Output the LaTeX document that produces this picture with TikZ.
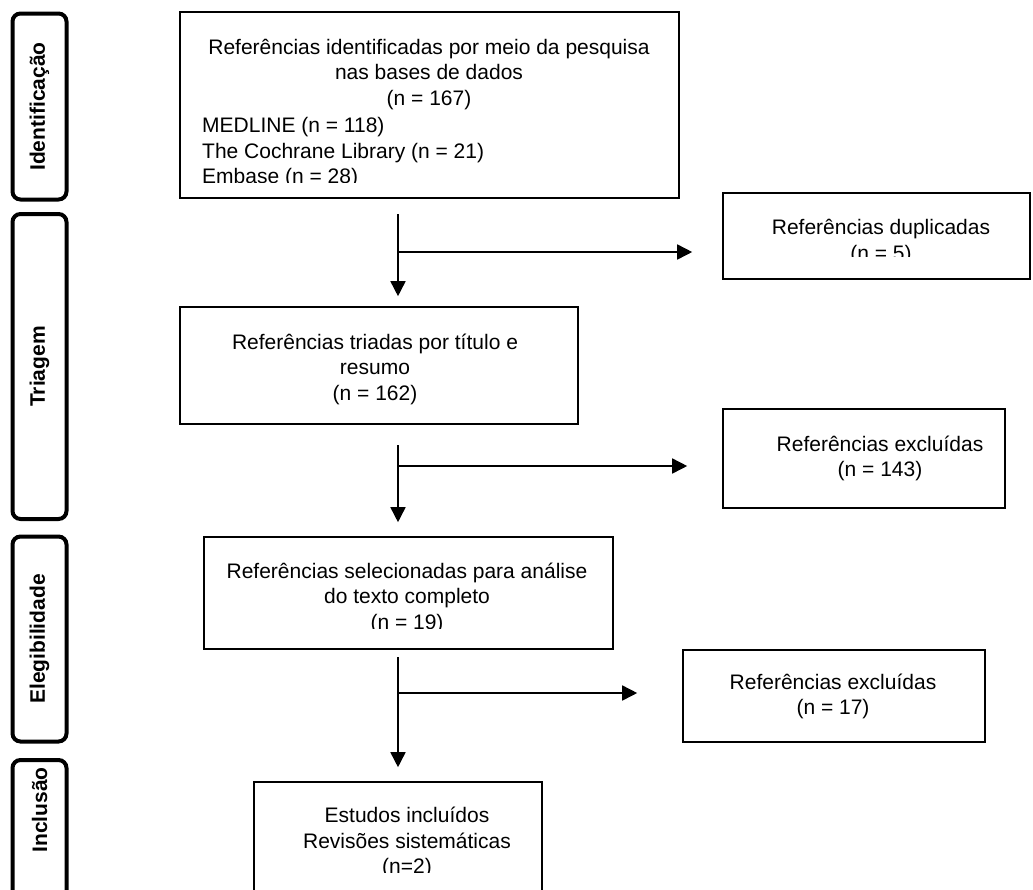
\documentclass[tikz,border=0pt]{standalone}
\usepackage{fontspec}
\setmainfont{Liberation Sans}
\usetikzlibrary{arrows.meta}

\tikzset{
  box/.style = {draw, line width=1.6pt, inner sep=0pt},
  phase/.style = {draw, rounded corners=8pt, line width=4pt, rotate=90, inner sep=0pt,
    minimum height=54pt, font=\bfseries\fontsize{21}{25}\selectfont},
  txt/.style = {align=center, inner sep=0pt, font=\fontsize{21}{25.5}\selectfont},
  flow/.style = {line width=1.6pt, -{Triangle[length=15pt,width=15pt]}}
}

\begin{document}
\begin{tikzpicture}[x=1pt,y=-1pt]
\useasboundingbox (0,0) rectangle (1033,889);

% fases
\node[phase, minimum width=186pt] (idf) at (39.5,106.5) {Identificação};
\node[phase, minimum width=305pt] (tri) at (39.5,366.5) {Triagem};
\node[phase, minimum width=205pt] (ele) at (39.5,639) {Elegibilidade};
\node[phase, minimum width=200pt] (inc) at (39.5,860) {};
\node[phase, draw=none] (inclab) at (39.5,810) {Inclusão};

% caixas
\node[box, minimum width=499pt, minimum height=186pt] (ident) at (429.5,105) {};
\node[box, minimum width=307pt, minimum height=86pt] (dup) at (876.5,236) {};
\node[box, minimum width=398pt, minimum height=117pt] (triad) at (379,365.5) {};
\node[box, minimum width=282pt, minimum height=99pt] (exc1) at (864,458.5) {};
\node[box, minimum width=409pt, minimum height=112pt] (sel) at (408.5,593) {};
\node[box, minimum width=302pt, minimum height=92pt] (exc2) at (834,696) {};
\node[box, minimum width=288pt, minimum height=178pt] (incl) at (398,871) {};

% textos
\begin{scope}
  \clip (ident.north west) rectangle ([yshift=16pt]ident.south east);
  \node[txt] (identtxt) at (429,74.5) {Referências identificadas por meio da pesquisa\\nas bases de dados\\(n = 167)};
  \node[txt, align=left, anchor=west] (identbases) at (202,153) {MEDLINE (n = 118)\\The Cochrane Library (n = 21)\\Embase (n = 28)};
\end{scope}
\begin{scope}
  \clip (dup.north west) rectangle ([yshift=23pt]dup.south east);
  \node[txt] (duptxt) at (881,242) {Referências duplicadas\\(n = 5)};
\end{scope}
\node[txt] (tritxt) at (375,369) {Referências triadas por título e\\resumo\\(n = 162)};
\node[txt] (exc1txt) at (880,458.5) {Referências excluídas\\(n = 143)};
\begin{scope}
  \clip (sel.north west) rectangle ([yshift=21pt]sel.south east);
  \node[txt] (seltxt) at (407,598) {Referências selecionadas para análise\\do texto completo\\(n = 19)};
\end{scope}
\node[txt] (exc2txt) at (833,696.5) {Referências excluídas\\(n = 17)};
\begin{scope}
  \clip (incl.north west) rectangle ([yshift=-91pt]incl.north east);
  \node[txt] (incltxt) at (407,842.5) {Estudos incluídos\\Revisões sistemáticas\\(n=2)};
\end{scope}

% setas
\coordinate (t1) at (398,214);
\coordinate (j1) at (398,252);
\coordinate (t2) at (398,445);
\coordinate (j2) at (398,466);
\coordinate (t3) at (398,657);
\coordinate (j3) at (398,693);
\draw[flow, shorten >=10pt] (t1) -- (t1 |- triad.north);
\draw[flow, shorten >=30pt] (j1) -- (j1 -| dup.west);
\draw[flow, shorten >=14pt] (t2) -- (t2 |- sel.north);
\draw[flow, shorten >=35pt] (j2) -- (j2 -| exc1.west);
\draw[flow, shorten >=14pt] (t3) -- (t3 |- incl.north);
\draw[flow, shorten >=45pt] (j3) -- (j3 -| exc2.west);
\end{tikzpicture}
\end{document}
